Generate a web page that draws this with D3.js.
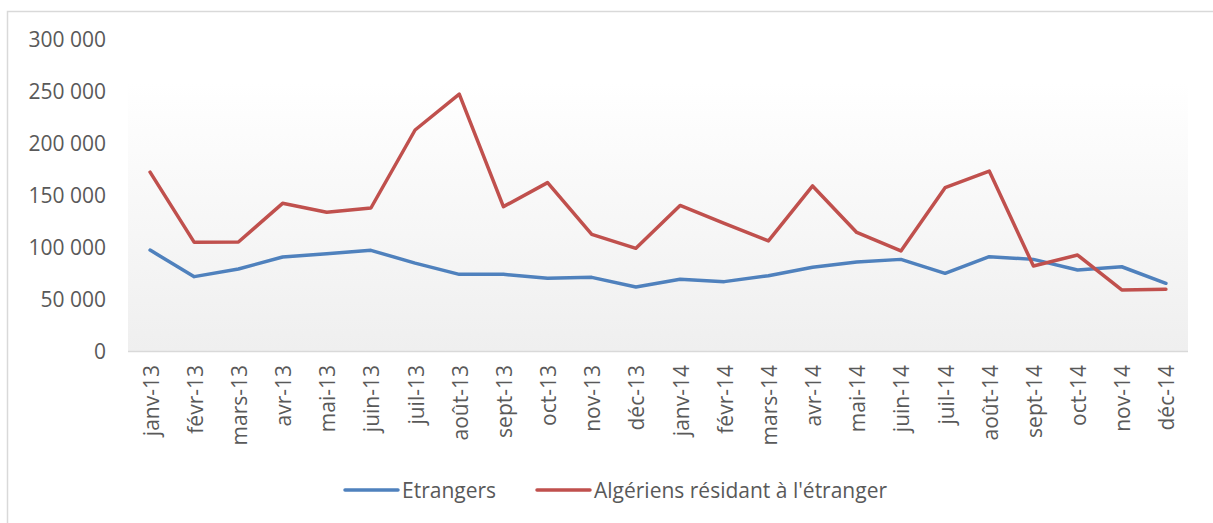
<!DOCTYPE html>
<html>
<head>
<meta charset="utf-8">
<script src="https://d3js.org/d3.v7.min.js"></script>
<style>
  html, body { margin: 0; padding: 0; background: #fff; }
  svg text { font-family: "Open Sans", "Liberation Sans", sans-serif; fill: #595959; }
</style>
</head>
<body>
<div id="chart"></div>
<script>
// --- données ---
const months = ["janv-13", "févr-13", "mars-13", "avr-13", "mai-13", "juin-13",
  "juil-13", "août-13", "sept-13", "oct-13", "nov-13", "déc-13",
  "janv-14", "févr-14", "mars-14", "avr-14", "mai-14", "juin-14",
  "juil-14", "août-14", "sept-14", "oct-14", "nov-14", "déc-14"];

const etrangers = [97000, 71500, 78800, 90400, 93600, 96800,
  84500, 73700, 73700, 69900, 70800, 61500,
  68900, 66700, 72400, 80500, 85500, 88100,
  74700, 90700, 88100, 77900, 81000, 65100];

const algeriensEtranger = [172000, 104500, 104800, 142000, 133400, 137500,
  212500, 247000, 138800, 161900, 112200, 98700,
  140000, 122800, 105800, 158700, 114000, 96200,
  157000, 173000, 81700, 92300, 58700, 59300];

const yTicks = [0, 50000, 100000, 150000, 200000, 250000, 300000];

const seriesNames = ["Etrangers", "Algériens résidant à l'étranger"];
const seriesColors = ["#4f81bd", "#c0504d"];

(function() {
  const width = 1213, height = 523;
  const plot = { left: 128, right: 1188, top: 82, bottom: 351 };

  const svg = d3.select("#chart").append("svg")
    .attr("width", width)
    .attr("height", height);

  // cadre extérieur (coupé à droite et en bas)
  svg.append("path")
    .attr("d", `M7.5,${height + 2} V11.5 H${width + 2}`)
    .attr("fill", "none")
    .attr("stroke", "#d9d9d9")
    .attr("stroke-width", 1.5);

  // fond dégradé de la zone de tracé
  const grad = svg.append("defs").append("linearGradient")
    .attr("id", "plotbg").attr("x1", 0).attr("y1", 0).attr("x2", 0).attr("y2", 1);
  grad.append("stop").attr("offset", "0%").attr("stop-color", "#ffffff");
  grad.append("stop").attr("offset", "100%").attr("stop-color", "#efefef");

  svg.append("rect")
    .attr("x", plot.left).attr("y", plot.top)
    .attr("width", plot.right - plot.left)
    .attr("height", plot.bottom - plot.top)
    .attr("fill", "url(#plotbg)");

  const x = d3.scalePoint().domain(months).range([plot.left, plot.right]).padding(0.5);
  const y = d3.scaleLinear().domain([0, 300000]).range([plot.bottom, 39]);

  const fmt = v => d3.format(",")(v).replace(/,/g, " ");

  // axe Y (libellés uniquement)
  const yAxis = svg.append("g")
    .attr("transform", `translate(${plot.left - 22},0)`)
    .call(d3.axisLeft(y).tickValues(yTicks).tickFormat(fmt).tickSize(0).tickPadding(0));
  yAxis.select(".domain").remove();
  yAxis.selectAll("text")
    .style("font-size", "21px")
    .attr("dy", "0.36em")
    .attr("font-family", null);

  // axe X
  svg.append("line")
    .attr("x1", plot.left).attr("x2", plot.right)
    .attr("y1", plot.bottom + 0.5).attr("y2", plot.bottom + 0.5)
    .attr("stroke", "#d9d9d9").attr("stroke-width", 1.5);

  const xAxis = svg.append("g")
    .attr("transform", `translate(0,${plot.bottom})`)
    .call(d3.axisBottom(x).tickSize(0).tickPadding(0));
  xAxis.select(".domain").remove();
  xAxis.selectAll("text")
    .style("font-size", "21px")
    .attr("font-family", null)
    .attr("text-anchor", "end")
    .attr("dy", null)
    .attr("y", 0)
    .attr("transform", "translate(8,14) rotate(-90)");

  // lignes
  const line = d3.line()
    .x((d, i) => x(months[i]))
    .y(d => y(d));

  [etrangers, algeriensEtranger].forEach((values, k) => {
    svg.append("path")
      .datum(values)
      .attr("d", line)
      .attr("fill", "none")
      .attr("stroke", seriesColors[k])
      .attr("stroke-width", 3.5)
      .attr("stroke-linejoin", "round")
      .attr("stroke-linecap", "round");
  });

  // légende
  const legendY = 490;
  const legendItems = [
    { x: 345, name: seriesNames[0], color: seriesColors[0] },
    { x: 537, name: seriesNames[1], color: seriesColors[1] }
  ];
  legendItems.forEach(it => {
    svg.append("line")
      .attr("x1", it.x).attr("x2", it.x + 53)
      .attr("y1", legendY).attr("y2", legendY)
      .attr("stroke", it.color).attr("stroke-width", 3.5)
      .attr("stroke-linecap", "round");
    svg.append("text")
      .attr("x", it.x + 57).attr("y", legendY)
      .attr("dy", "0.36em")
      .style("font-size", "21px")
      .text(it.name);
  });
})();
</script>
</body>
</html>
